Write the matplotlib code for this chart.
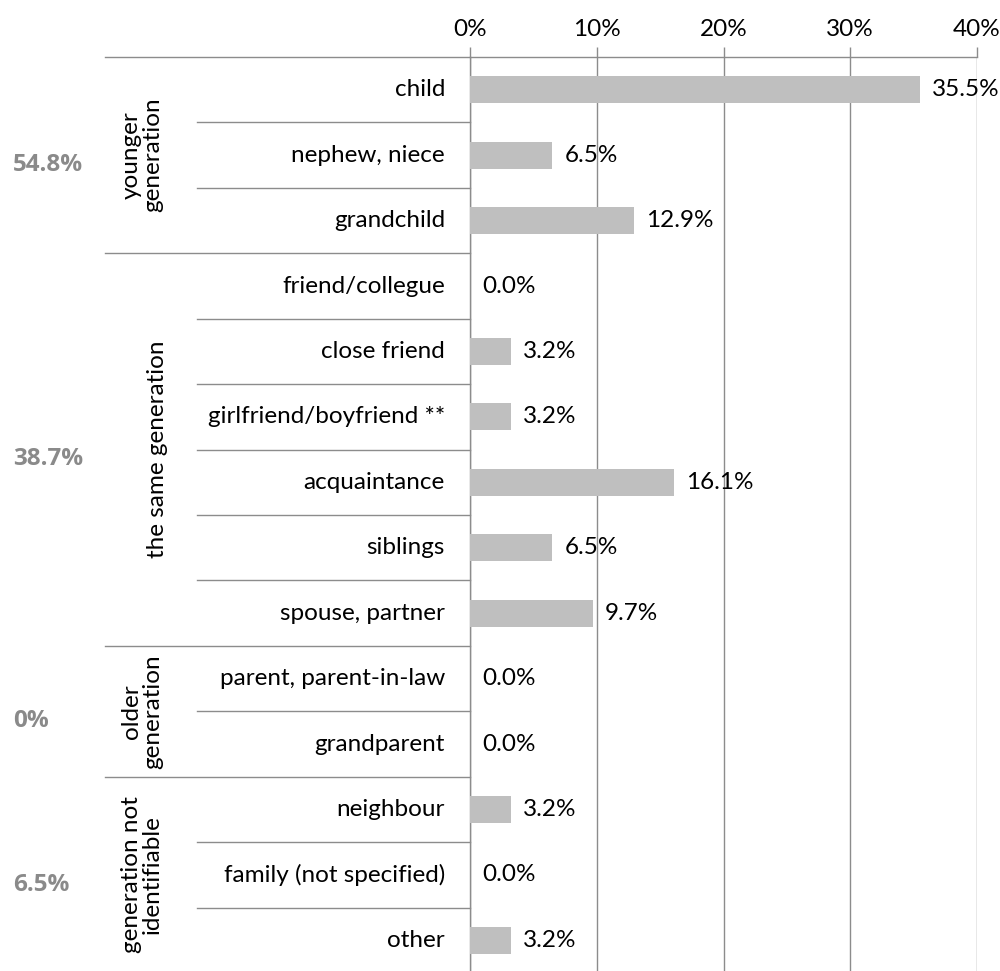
import matplotlib
matplotlib.use("Agg")
import matplotlib.pyplot as plt
from matplotlib.transforms import blended_transform_factory
from matplotlib.ticker import FuncFormatter

categories = ["child", "nephew, niece", "grandchild",
              "friend/collegue", "close friend", "girlfriend/boyfriend **",
              "acquaintance", "siblings", "spouse, partner",
              "parent, parent-in-law", "grandparent",
              "neighbour", "family (not specified)", "other"]
values = [35.5, 6.5, 12.9, 0.0, 3.2, 3.2, 16.1, 6.5, 9.7, 0.0, 0.0, 3.2, 0.0, 3.2]
groups = ["younger\ngeneration", "the same generation", "older\ngeneration",
          "generation not\nidentifiable"]
group_sizes = [3, 6, 2, 3]
group_totals = ["54.8%", "38.7%", "0%", "6.5%"]
xticks = [0, 10, 20, 30, 40]

FONT = "Lato"
plt.rcParams['font.family'] = [FONT, 'DejaVu Sans']
GRID = "#8c8c8c"
BAR = "#bfbfbf"
FS = 17.5

fig = plt.figure(figsize=(10, 9.71), dpi=100)
top_px, bot_px = 57, 973
ax = fig.add_axes([0.47, 1 - bot_px / 971, 0.507, (bot_px - top_px) / 971])

n = len(categories)
ypos = list(range(n))
ax.barh(ypos, values, height=0.41, color=BAR, zorder=3)
ax.set_ylim(n - 0.5, -0.5)
ax.set_xlim(0, 40)
ax.set_xticks(xticks)
ax.xaxis.set_major_formatter(FuncFormatter(lambda v, p: f"{v:.0f}%"))
ax.xaxis.tick_top()
ax.tick_params(axis='x', top=True, bottom=False, length=7, width=1.0, color=GRID,
               labelsize=FS, pad=5)
ax.set_yticks([])
ax.grid(axis='x', color=GRID, lw=1.0, zorder=0)
for s in ['bottom', 'right']:
    ax.spines[s].set_visible(False)
for s in ['top', 'left']:
    ax.spines[s].set_color(GRID)
    ax.spines[s].set_linewidth(1.0)

# value labels
for y, v in zip(ypos, values):
    ax.text(v + 0.95, y, f"{v:.1f}%", va='center', ha='left', fontsize=FS, zorder=4)

# category labels
tr = blended_transform_factory(fig.transFigure, ax.transData)
for y, c in zip(ypos, categories):
    ax.text(0.445, y, c, transform=tr, ha='right', va='center', fontsize=FS)

# separators
start = 0
bounds = []
for gs in group_sizes:
    bounds.append(start - 0.5)
    start += gs
group_bounds = set(bounds)
for b in range(n):
    yb = b - 0.5
    x0 = 0.105 if yb in group_bounds else 0.197
    ax.plot([x0, 0.47], [yb, yb], transform=tr, color=GRID, lw=1.0, clip_on=False)

# group labels and totals
start = 0
for g, gs, tot in zip(groups, group_sizes, group_totals):
    yc = start + gs / 2 - 0.5
    xg = 0.157 if "\n" not in g else 0.142
    ax.text(xg, yc, g, transform=tr, rotation=90, ha='center', va='center',
            fontsize=FS, multialignment='center', linespacing=1.0)
    ax.text(0.013, yc + 0.15, tot, transform=tr, ha='left', va='center',
            fontsize=FS, fontweight='bold', color="#8a8a8a",
            family=['Open Sans', 'DejaVu Sans'])
    start += gs

fig.savefig("out.png", dpi=100)
